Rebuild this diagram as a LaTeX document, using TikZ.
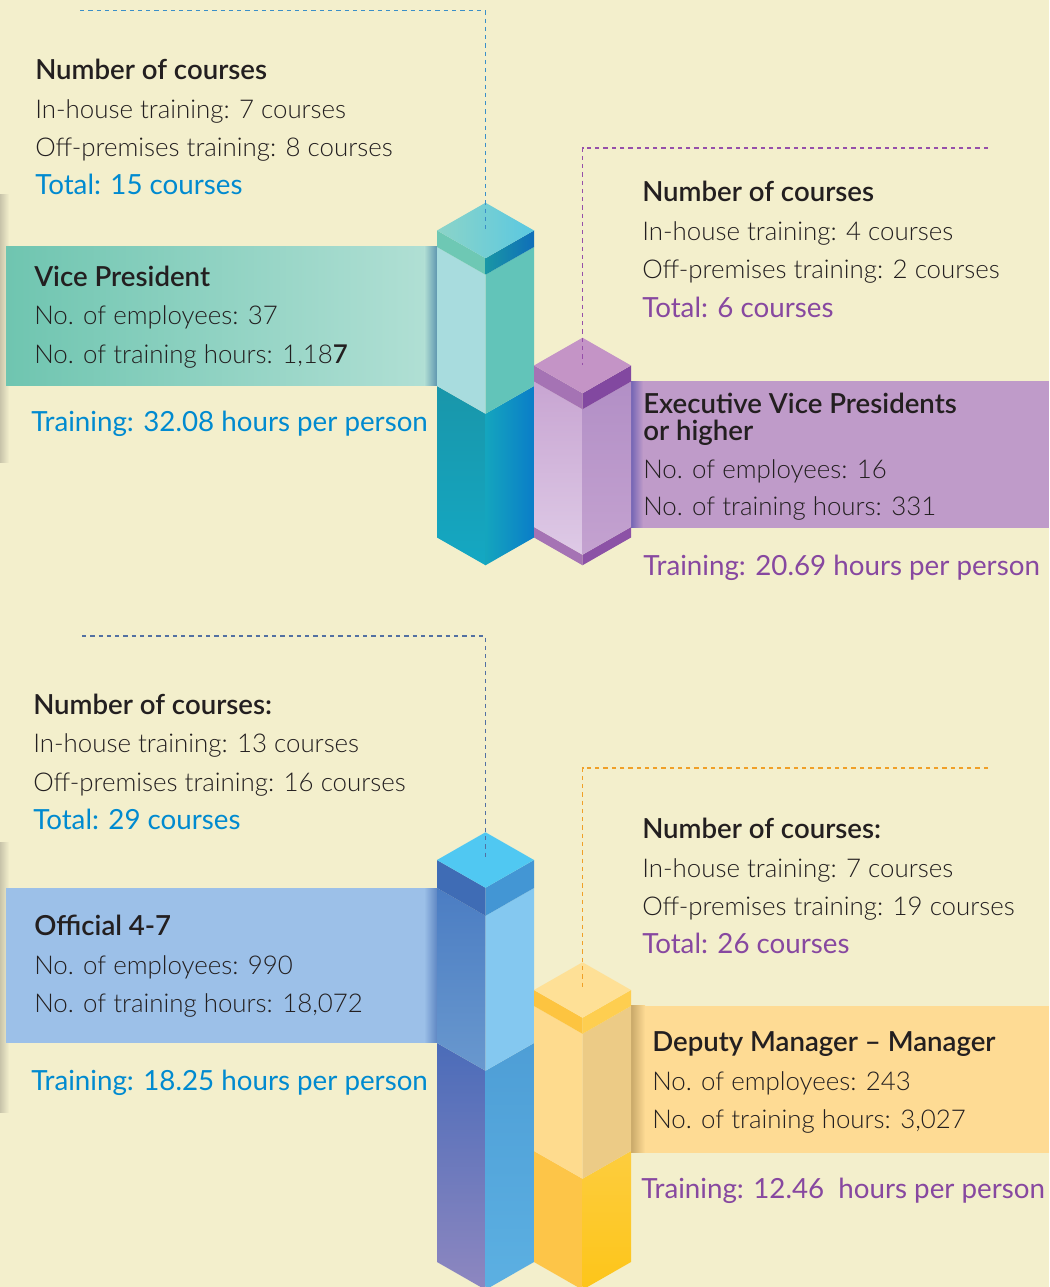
\documentclass[tikz,border=0pt]{standalone}
\usepackage{fontspec}
\setmainfont{Lato}[UprightFont={* Light}, BoldFont={* Semibold}]
\newfontfamily\plainlato{Lato}
\usetikzlibrary{positioning}

\definecolor{bg}{RGB}{243,239,204}
\definecolor{ink}{RGB}{35,31,32}
\definecolor{tblue}{RGB}{0,138,208}
\definecolor{tpurple}{RGB}{135,72,160}
\definecolor{pageshadow}{RGB}{200,196,170}
% teal pillar
\definecolor{tealTopL}{RGB}{140,212,200}
\definecolor{tealTopR}{RGB}{90,200,225}
\definecolor{tealCapL}{RGB}{110,200,180}
\definecolor{tealCapRa}{RGB}{25,150,165}
\definecolor{tealCapRb}{RGB}{15,110,185}
\definecolor{tealBodyL}{RGB}{168,220,222}
\definecolor{tealBodyR}{RGB}{98,196,185}
\definecolor{tealLowLa}{RGB}{25,150,170}
\definecolor{tealLowLb}{RGB}{20,168,195}
\definecolor{tealLowRa}{RGB}{20,165,190}
\definecolor{tealLowRb}{RGB}{10,125,200}
\definecolor{tealPanelL}{RGB}{111,197,176}
\definecolor{tealPanelR}{RGB}{178,224,213}
\definecolor{tealShade}{RGB}{95,150,175}
% purple pillar
\definecolor{purTop}{RGB}{196,148,198}
\definecolor{purCapL}{RGB}{165,115,180}
\definecolor{purCapR}{RGB}{130,72,160}
\definecolor{purBodyLa}{RGB}{200,165,210}
\definecolor{purBodyLb}{RGB}{222,202,230}
\definecolor{purBodyRa}{RGB}{178,143,198}
\definecolor{purBodyRb}{RGB}{196,162,208}
\definecolor{purBandR}{RGB}{140,82,166}
\definecolor{purPanel}{RGB}{191,155,201}
\definecolor{purShade}{RGB}{115,100,180}
% blue pillar
\definecolor{bluTop}{RGB}{80,200,242}
\definecolor{bluCapL}{RGB}{63,108,181}
\definecolor{bluCapR}{RGB}{67,150,212}
\definecolor{bluBodyLa}{RGB}{75,125,195}
\definecolor{bluBodyLb}{RGB}{105,152,206}
\definecolor{bluBodyR}{RGB}{132,200,240}
\definecolor{bluLowLa}{RGB}{75,108,185}
\definecolor{bluLowLb}{RGB}{142,135,192}
\definecolor{bluLowRa}{RGB}{78,158,214}
\definecolor{bluLowRb}{RGB}{92,176,226}
\definecolor{bluPanel}{RGB}{156,192,232}
\definecolor{bluShade}{RGB}{95,135,195}
% yellow pillar
\definecolor{yelTop}{RGB}{254,224,150}
\definecolor{yelCapL}{RGB}{253,196,64}
\definecolor{yelCapR}{RGB}{254,206,80}
\definecolor{yelBodyL}{RGB}{254,219,142}
\definecolor{yelBodyR}{RGB}{236,203,134}
\definecolor{yelLowL}{RGB}{253,197,72}
\definecolor{yelLowRa}{RGB}{253,205,62}
\definecolor{yelLowRb}{RGB}{253,197,25}
\definecolor{yelPanel}{RGB}{254,219,148}
\definecolor{yelShade}{RGB}{200,168,105}
% leader lines
\definecolor{leadTeal}{RGB}{58,143,200}
\definecolor{leadPurple}{RGB}{150,80,170}
\definecolor{leadBlue}{RGB}{82,112,162}
\definecolor{leadOrange}{RGB}{240,160,40}

\tikzset{
  txt/.style={anchor=base west, inner sep=0pt, text=ink, font=\fontsize{19.4}{23}\selectfont},
  head/.style={txt, font=\fontsize{20.7}{24}\selectfont\bfseries},
  bluetxt/.style={txt, text=tblue, font=\plainlato\fontsize{20.8}{25}\selectfont},
  purptxt/.style={txt, text=tpurple, font=\plainlato\fontsize{20.8}{25}\selectfont},
  lead/.style={line width=1.1pt, dash pattern=on 3.2pt off 3pt}
}

% side faces of one block of a pillar: centre x, top edge, bottom edge, left face, right face
\newcommand\sidefaces[5]{%
  \path[#4] (#1-48.5,#2) -- (#1,#2+27.75) -- (#1,#3+27.75) -- (#1-48.5,#3) -- cycle;
  \path[#5] (#1,#2+27.75) -- (#1+48.5,#2) -- (#1+48.5,#3) -- (#1,#3+27.75) -- cycle;}
\newcommand\topface[3]{%
  \path[#3] (#1,#2-27.75) -- (#1+48.5,#2) -- (#1,#2+27.75) -- (#1-48.5,#2) -- cycle;}

\begin{document}
\begin{tikzpicture}[x=0.75pt,y=-0.75pt]
	\useasboundingbox (0,0) rectangle (1049,1287);
	\fill[bg] (0,0) rectangle (1049,1287);
	\path[left color=pageshadow, right color=bg] (0,195) rectangle (9,462);
	\path[left color=pageshadow, right color=bg] (0,842) rectangle (9,1112);

	% panels
	\path[left color=tealPanelL, right color=tealPanelR] (6,246.7) rectangle (437,385.7);
	\path[left color=tealPanelR, right color=tealShade] (424,246.7) rectangle (437,385.7);
	\fill[purPanel] (631,381) rectangle (1049,527.7);
	\path[left color=purShade, right color=purPanel] (631,381) rectangle (643,527.7);
	\fill[bluPanel] (6,888) rectangle (437,1042.7);
	\path[left color=bluPanel, right color=bluShade] (424,888) rectangle (437,1042.7);
	\fill[yelPanel] (631,1005.7) rectangle (1049,1152.7);
	\path[left color=yelShade, right color=yelPanel] (631,1005.7) rectangle (645,1152.7);

	% teal pillar
	\sidefaces{485.5}{386}{537.5}{top color=tealLowLa, bottom color=tealLowLb}{left color=tealLowRa, right color=tealLowRb}
	\sidefaces{485.5}{247}{386}{fill=tealBodyL}{fill=tealBodyR}
	\sidefaces{485.5}{230.5}{247}{fill=tealCapL}{left color=tealCapRa, right color=tealCapRb}
	\topface{485.5}{230.5}{left color=tealTopL, right color=tealTopR}

	% purple pillar
	\sidefaces{582.5}{527}{537.5}{fill=purCapL}{fill=purBandR}
	\sidefaces{582.5}{381.5}{527}{top color=purBodyLa, bottom color=purBodyLb}{top color=purBodyRa, bottom color=purBodyRb}
	\sidefaces{582.5}{365.5}{381.5}{fill=purCapL}{fill=purCapR}
	\topface{582.5}{365.5}{fill=purTop}

	% blue pillar
	\sidefaces{485.5}{1043}{1262}{top color=bluLowLa, bottom color=bluLowLb}{top color=bluLowRa, bottom color=bluLowRb}
	\sidefaces{485.5}{888}{1043}{top color=bluBodyLa, bottom color=bluBodyLb}{fill=bluBodyR}
	\sidefaces{485.5}{860}{888}{fill=bluCapL}{fill=bluCapR}
	\topface{485.5}{860}{fill=bluTop}

	% yellow pillar
	\sidefaces{582.5}{1151}{1262}{fill=yelLowL}{top color=yelLowRa, bottom color=yelLowRb}
	\sidefaces{582.5}{1006}{1151}{fill=yelBodyL}{fill=yelBodyR}
	\sidefaces{582.5}{990}{1006}{fill=yelCapL}{fill=yelCapR}
	\topface{582.5}{990}{fill=yelTop}

	% leader lines
	\coordinate (vpTip) at (485.5,232);
	\coordinate (vpEnd) at (80,10.7);
	\coordinate (evpTip) at (582.5,365);
	\coordinate (evpEnd) at (988,148);
	\coordinate (offTip) at (485.5,858);
	\coordinate (offEnd) at (82,636);
	\coordinate (mgrTip) at (582.5,988);
	\coordinate (mgrEnd) at (988,768);
	\draw[lead, leadTeal] (vpEnd) -| (vpTip);
	\draw[lead, leadPurple] (evpEnd) -| (evpTip);
	\draw[lead, leadBlue] (offEnd) -| (offTip);
	\draw[lead, leadOrange] (mgrEnd) -| (mgrTip);

	% vice president
	\node[head] (vpHead) at (35,80) {Number of courses};
	\node[txt] (vpIn) at (35,118.3) {In-house training: 7 courses};
	\node[txt] (vpOff) at (35,156.7) {Off-premises training: 8 courses};
	\node[bluetxt] (vpTotal) at (35,195) {Total: 15 courses};
	\node[head] (vpTitle) at (34,286.7) {Vice President};
	\node[txt] (vpEmp) at (34,325) {No. of employees: 37};
	\node[txt] (vpHrs) at (34,363.3) {No. of training hours: 1,18\textbf{7}};
	\node[bluetxt] (vpAvg) at (31,431.7) {Training: 32.08 hours per person};

	% executive vice presidents
	\node[head] (evpHead) at (642,202) {Number of courses};
	\node[txt] (evpIn) at (642,240.5) {In-house training: 4 courses};
	\node[txt] (evpOff) at (642,279) {Off-premises training: 2 courses};
	\node[purptxt] (evpTotal) at (642,317) {Total: 6 courses};
	\node[head] (evpTitle) at (643,413.3) {Executive Vice Presidents};
	\node[head] (evpTitleB) at (643,440) {or higher};
	\node[txt] (evpEmp) at (643,478.3) {No. of employees: 16};
	\node[txt] (evpHrs) at (643,515.7) {No. of training hours: 331};
	\node[purptxt] (evpAvg) at (643,575) {Training: 20.69 hours per person};

	% official 4-7
	\node[head] (offHead) at (33,714) {Number of courses:};
	\node[txt] (offIn) at (33,752.5) {In-house training: 13 courses};
	\node[txt] (offOff) at (33,791) {Off-premises training: 16 courses};
	\node[bluetxt] (offTotal) at (33,829.5) {Total: 29 courses};
	\node[head] (offTitle) at (34,935.5) {Official 4-7};
	\node[txt] (offEmp) at (34,974) {No. of employees: 990};
	\node[txt] (offHrs) at (34,1012.5) {No. of training hours: 18,072};
	\node[bluetxt] (offAvg) at (31,1090) {Training: 18.25 hours per person};

	% deputy manager - manager
	\node[head] (mgrHead) at (642,838.5) {Number of courses:};
	\node[txt] (mgrIn) at (642,877) {In-house training: 7 courses};
	\node[txt] (mgrOff) at (642,915) {Off-premises training: 19 courses};
	\node[purptxt] (mgrTotal) at (642,953) {Total: 26 courses};
	\node[head] (mgrTitle) at (652,1051.7) {Deputy Manager -- Manager};
	\node[txt] (mgrEmp) at (652,1090) {No. of employees: 243};
	\node[txt] (mgrHrs) at (652,1128.3) {No. of training hours: 3,027};
	\node[purptxt] (mgrAvg) at (641,1198.3) {Training: 12.46\ \ hours per person};
\end{tikzpicture}
\end{document}
